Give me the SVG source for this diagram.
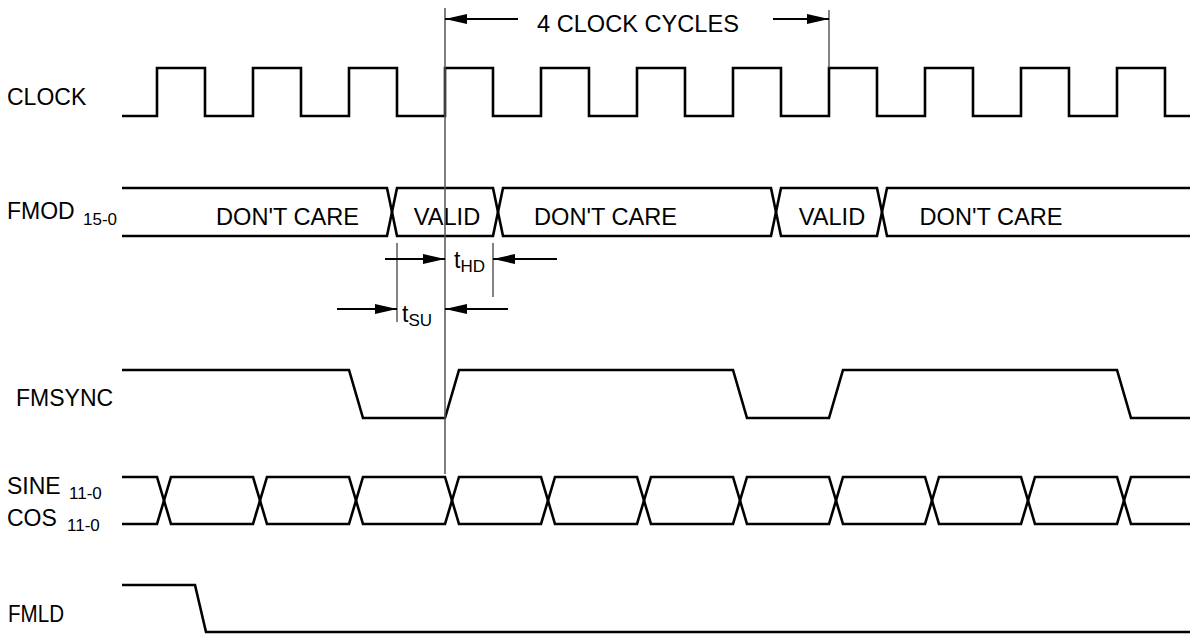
<svg xmlns="http://www.w3.org/2000/svg" width="1190" height="634" viewBox="0 0 1190 634">
<style>
text{font-family:"Liberation Sans",Arial,sans-serif;font-size:23px;fill:#000}
.in{font-size:23.6px}
.sub{font-size:17px}
.sig{fill:none;stroke:#000;stroke-width:2.6;stroke-linejoin:miter}
.dim{stroke:#000;stroke-width:2}
.ref{stroke:#555;stroke-width:1.5}
.ext{stroke:#333;stroke-width:1.2}
</style>
<defs>
<marker id="ah" markerUnits="userSpaceOnUse" markerWidth="22" markerHeight="12" viewBox="0 0 22 12" refX="22" refY="6" orient="auto">
<path d="M0,1 L22,6 L0,11 Z" fill="#000"/>
</marker>
</defs>
<rect width="1190" height="634" fill="#fff"/>

<g id="clock">
<text x="7" y="105">CLOCK</text>
<path class="sig" d="M122,116 H157 V68 H205 V116 H253 V68 H301 V116 H349 V68 H397 V116 H445 V68 H493 V116 H541 V68 H589 V116 H637 V68 H685 V116 H733 V68 H781 V116 H829 V68 H877 V116 H925 V68 H973 V116 H1021 V68 H1069 V116 H1117 V68 H1165 V116 H1190"/>
</g>

<g id="fmod">
<text x="7" y="219">FMOD<tspan class="sub" x="83" y="225">15-0</tspan></text>
<path class="sig" d="M122,188 H387 L397,236 H493 L503,188 H771 L781,236 H877 L887,188 H1190"/>
<path class="sig" d="M122,236 H387 L397,188 H493 L503,236 H771 L781,188 H877 L887,236 H1190"/>
<text class="in" x="287.5" y="225" text-anchor="middle">DON'T CARE</text>
<text class="in" x="447" y="225" text-anchor="middle">VALID</text>
<text class="in" x="605.5" y="225" text-anchor="middle">DON'T CARE</text>
<text class="in" x="832" y="225" text-anchor="middle">VALID</text>
<text class="in" x="991" y="225" text-anchor="middle">DON'T CARE</text>
</g>

<g id="fmsync">
<text x="16" y="406">FMSYNC</text>
<path class="sig" d="M122,370 H349 L363,418 H445 L459,370 H733 L747,418 H829 L843,370 H1117 L1131,418 H1190"/>
</g>

<g id="sinecos">
<text x="7" y="494">SINE<tspan class="sub" x="69" y="499">11-0</tspan></text>
<text x="7" y="526">COS<tspan class="sub" x="67" y="531">11-0</tspan></text>
<path class="sig" d="M122,477 H157 L171,524 H253 L267,477 H349 L363,524 H445 L459,477 H541 L555,524 H637 L651,477 H733 L747,524 H829 L843,477 H925 L939,524 H1021 L1035,477 H1117 L1131,524 H1190"/>
<path class="sig" d="M122,524 H157 L171,477 H253 L267,524 H349 L363,477 H445 L459,524 H541 L555,477 H637 L651,524 H733 L747,477 H829 L843,524 H925 L939,477 H1021 L1035,524 H1117 L1131,477 H1190"/>
</g>

<g id="fmld">
<text x="8" y="622" textLength="56" lengthAdjust="spacingAndGlyphs">FMLD</text>
<path class="sig" d="M122,585 H195 L206,632 H1190"/>
</g>

<g id="connectors">
<line class="ref" x1="445" y1="8" x2="445" y2="474"/>
<line class="ext" x1="829" y1="10" x2="829" y2="68"/>
<line class="ext" x1="397" y1="243" x2="397" y2="322"/>
<line class="ext" x1="493" y1="243" x2="493" y2="297"/>
<line class="dim" x1="518" y1="19" x2="445" y2="19" marker-end="url(#ah)"/>
<line class="dim" x1="773" y1="19" x2="829" y2="19" marker-end="url(#ah)"/>
<line class="dim" x1="385" y1="259" x2="445" y2="259" marker-end="url(#ah)"/>
<line class="dim" x1="557" y1="259" x2="493" y2="259" marker-end="url(#ah)"/>
<line class="dim" x1="337" y1="309" x2="397" y2="309" marker-end="url(#ah)"/>
<line class="dim" x1="508" y1="309" x2="445" y2="309" marker-end="url(#ah)"/>
</g>

<g id="labels">
<text class="in" x="537" y="32">4 CLOCK CYCLES</text>
<text x="454" y="268" font-size="21">t<tspan class="sub" dy="4">HD</tspan></text>
<text x="402" y="322" font-size="21">t<tspan class="sub" dy="4">SU</tspan></text>
</g>
</svg>
